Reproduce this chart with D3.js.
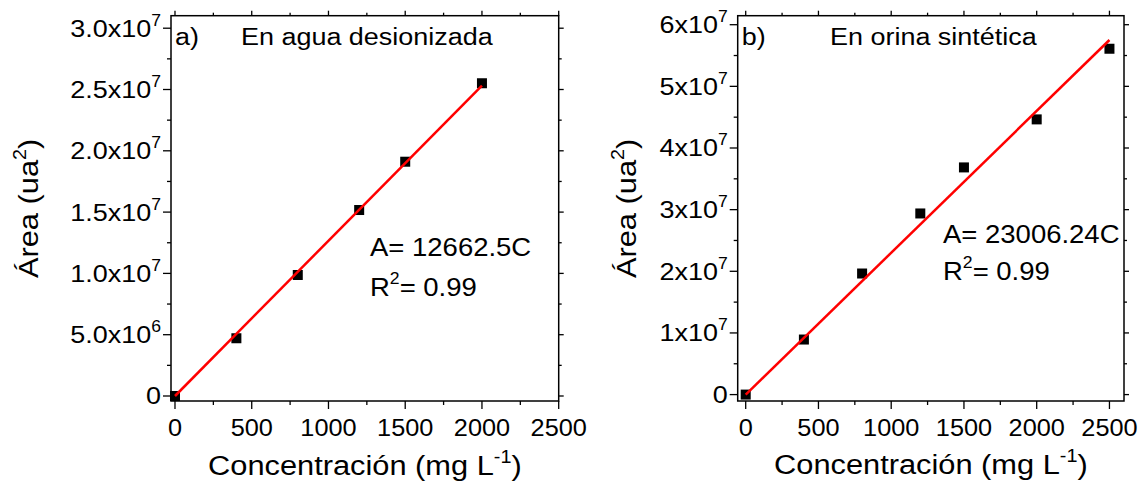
<!DOCTYPE html>
<html>
<head>
<meta charset="utf-8">
<script src="https://cdn.jsdelivr.net/npm/d3@7"></script>
<style>
  html, body { margin: 0; padding: 0; background: #fff; }
  svg { display: block; font-family: "Liberation Sans", Arial, sans-serif; }
</style>
</head>
<body>
<svg id="chart" width="1141" height="483"></svg>
<script>
// Calibration data: concentration (mg/L) vs peak area
const concAgua = [0, 400, 800, 1200, 1500, 2000];
const areaAgua = [0, 4.71e6, 9.87e6, 1.517e7, 1.911e7, 2.551e7];
const slopeAgua = 12662.5;

const concOrina = [0, 400, 800, 1200, 1500, 2000, 2500];
const areaOrina = [0, 8.93e6, 1.964e7, 2.938e7, 3.685e7, 4.464e7, 5.61e7];
const slopeOrina = 23006.24;

const xTicks = [0, 500, 1000, 1500, 2000, 2500];
const yTicksAgua = [0, 5e6, 1e7, 1.5e7, 2e7, 2.5e7, 3e7];
const yLabelsAgua = [["0", ""], ["5.0x10", "6"], ["1.0x10", "7"], ["1.5x10", "7"], ["2.0x10", "7"], ["2.5x10", "7"], ["3.0x10", "7"]];
const yTicksOrina = [0, 1e7, 2e7, 3e7, 4e7, 5e7, 6e7];
const yLabelsOrina = [["0", ""], ["1x10", "7"], ["2x10", "7"], ["3x10", "7"], ["4x10", "7"], ["5x10", "7"], ["6x10", "7"]];

const svg = d3.select("#chart");
const WIDE = 1.1; // glyphs are drawn slightly wide

// text placed at (x, y), optionally rotated, with widened glyphs
function label(parent, x, y, size, anchor, rot) {
  return parent.append("text")
    .attr("transform", `translate(${x},${y})` + (rot ? ` rotate(${rot})` : "") + ` scale(${WIDE},1)`)
    .attr("font-size", size).attr("text-anchor", anchor || "start");
}

function drawPanel(p) {
  const x = d3.scaleLinear().domain(p.xDomain).range(p.xRange);
  const y = d3.scaleLinear().domain(p.yDomain).range([401, 15.7]);
  const g = svg.append("g");
  const [x0, x1] = p.xRange, y0 = 401, y1 = 15.7;

  const xStep = p.xTicks[1] - p.xTicks[0];
  const yStep = p.yTicks[1] - p.yTicks[0];
  const xMinor = p.xTicks.slice(0, -1).map(v => v + xStep / 2);
  const yMinor = p.yTicks.slice(0, -1).map(v => v + yStep / 2);

  const tickG = g.append("g").attr("stroke", "#000").attr("stroke-width", 1.3);
  p.xTicks.forEach(v => {
    tickG.append("line").attr("x1", x(v)).attr("x2", x(v)).attr("y1", y0).attr("y2", y0 + 8);
    tickG.append("line").attr("x1", x(v)).attr("x2", x(v)).attr("y1", y1).attr("y2", y1 - 5);
  });
  xMinor.forEach(v => {
    tickG.append("line").attr("x1", x(v)).attr("x2", x(v)).attr("y1", y0).attr("y2", y0 + 4);
    tickG.append("line").attr("x1", x(v)).attr("x2", x(v)).attr("y1", y1).attr("y2", y1 - 3);
  });
  p.yTicks.forEach(v => {
    tickG.append("line").attr("y1", y(v)).attr("y2", y(v)).attr("x1", x0).attr("x2", x0 - 8);
    tickG.append("line").attr("y1", y(v)).attr("y2", y(v)).attr("x1", x1).attr("x2", x1 + 5);
  });
  yMinor.forEach(v => {
    tickG.append("line").attr("y1", y(v)).attr("y2", y(v)).attr("x1", x0).attr("x2", x0 - 4);
    tickG.append("line").attr("y1", y(v)).attr("y2", y(v)).attr("x1", x1).attr("x2", x1 + 3);
  });

  // frame
  g.append("rect").attr("x", x0).attr("y", y1).attr("width", x1 - x0).attr("height", y0 - y1)
    .attr("fill", "none").attr("stroke", "#000").attr("stroke-width", 1.5);

  // x tick labels
  p.xTicks.forEach(v => label(g, x(v), 436, 23, "middle").text(v));

  // y tick labels with superscript exponents
  p.yTicks.forEach((v, i) => {
    const t = label(g, x0 - 10, y(v) + 8.5, 24.5, "end");
    t.append("tspan").text(p.yLabels[i][0]);
    t.append("tspan").attr("font-size", 16).attr("dy", -11).text(p.yLabels[i][1]);
  });

  // axis titles
  const xt = label(g, (x0 + x1) / 2, p.xTitleY, 28, "middle");
  xt.append("tspan").text("Concentración (mg L");
  xt.append("tspan").attr("font-size", 18).attr("dy", -12).text("-1");
  xt.append("tspan").attr("dy", 12).text(")");

  const yt = label(g, p.yTitleX, (y0 + y1) / 2, 28, "middle", -90);
  yt.append("tspan").text("Área (ua");
  yt.append("tspan").attr("font-size", 18).attr("dy", -12).text("2");
  yt.append("tspan").attr("dy", 12).text(")");

  // data points
  g.append("g").selectAll("rect").data(p.conc).join("rect")
    .attr("x", d => x(d) - 5).attr("y", (d, i) => y(p.area[i]) - 5)
    .attr("width", 10).attr("height", 10).attr("fill", "#000");

  // fitted line
  const fitX = [0, d3.max(p.conc)];
  g.append("path").datum(fitX)
    .attr("d", d3.line().x(d => x(d)).y(d => y(p.slope * d)))
    .attr("stroke", "#ff0000").attr("stroke-width", 2.5).attr("fill", "none");

  // panel labels
  label(g, x0 + 4, 45, 24.5).text(p.tag);
  label(g, p.titleX, 45, 24.5).text(p.title);

  // equation annotation
  label(g, p.annX, p.annY, 25).text("A= " + p.slopeText + "C");
  const r2 = label(g, p.annX, p.annY + p.annGap, 25);
  r2.append("tspan").text("R");
  r2.append("tspan").attr("font-size", 16).attr("dy", -12).text("2");
  r2.append("tspan").attr("dy", 12).text("= 0.99");
}

drawPanel({
  conc: concAgua, area: areaAgua, slope: slopeAgua, slopeText: "12662.5",
  xDomain: [-26, 2500], xRange: [171, 558.7],
  yDomain: [-4.08e5, 3.102e7],
  xTicks: xTicks, yTicks: yTicksAgua, yLabels: yLabelsAgua,
  xTitleY: 475, yTitleX: 38,
  tag: "a)", title: "En agua desionizada", titleX: 241,
  annX: 370, annY: 256, annGap: 40
});

drawPanel({
  conc: concOrina, area: areaOrina, slope: slopeOrina, slopeText: "23006.24",
  xDomain: [-55, 2600], xRange: [737.7, 1124],
  yDomain: [-1.04e6, 6.146e7],
  xTicks: xTicks, yTicks: yTicksOrina, yLabels: yLabelsOrina,
  xTitleY: 474, yTitleX: 636,
  tag: "b)", title: "En orina sintética", titleX: 830,
  annX: 943, annY: 243, annGap: 37
});
</script>
</body>
</html>
